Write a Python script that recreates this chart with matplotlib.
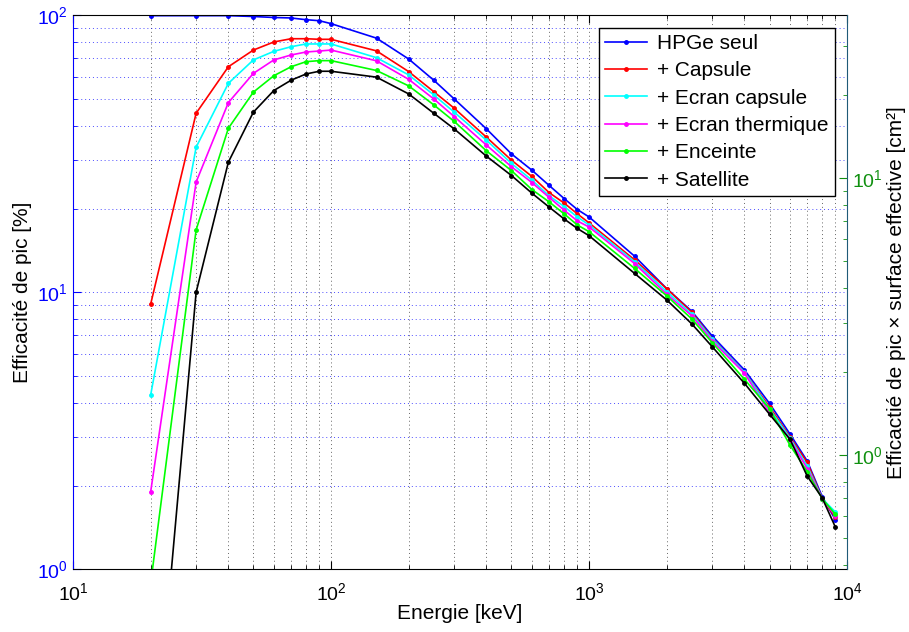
import numpy as np
import matplotlib
matplotlib.use("Agg")
import matplotlib.pyplot as plt
from matplotlib.ticker import LogLocator, NullFormatter

plt.rcParams['font.family'] = ['Liberation Sans', 'DejaVu Sans']
plt.rcParams['mathtext.default'] = 'regular'

# energies [keV]
energie = [20, 30, 40, 50, 60, 70, 80, 90, 100, 150, 200, 250, 300, 400, 500,
           600, 700, 800, 900, 1000, 1500, 2000, 2500, 3000, 4000, 5000, 6000,
           7000, 8000, 9000]

# peak efficiency [%]
hpge_seul = [99.7, 99.7, 99.7, 99.0, 98.2, 97.8, 96.4, 95.6, 93.3, 82.7, 69.5, 58.3,
             49.9, 38.9, 31.6, 27.6, 24.3, 21.8, 19.9, 18.7, 13.5, 10.3, 8.54, 6.95,
             5.24, 3.97, 3.08, 2.46, 1.83, 1.51]
capsule = [9.07, 44.3, 65.2, 74.9, 80.1, 82.3, 82.3, 81.9, 81.9, 74.4, 62.6, 53.0,
           46.2, 36.3, 30.0, 26.2, 22.9, 21.0, 19.2, 17.8, 13.1, 10.3, 8.47, 6.80,
           5.14, 3.86, 3.01, 2.43, 1.80, 1.54]
ecran_capsule = [4.26, 33.4, 56.8, 69.0, 74.1, 77.0, 78.8, 78.8, 78.8, 70.3, 60.9, 51.6,
                 44.7, 35.4, 29.2, 25.4, 22.3, 20.4, 18.7, 17.5, 12.9, 10.05, 8.35, 6.77,
                 5.14, 3.80, 2.98, 2.36, 1.80, 1.61]
ecran_thermique = [1.906, 25.0, 48.4, 61.7, 69.0, 71.9, 73.7, 74.3, 74.9, 68.5, 58.7, 49.9,
                   43.1, 34.0, 28.4, 24.9, 22.0, 19.8, 18.1, 17.2, 12.7, 9.84, 8.23, 6.67,
                   5.10, 3.68, 2.94, 2.31, 1.80, 1.56]
enceinte = [0.89, 16.8, 39.1, 52.8, 60.5, 65.2, 68.0, 68.6, 68.6, 63.2, 55.6, 47.5,
            41.4, 32.4, 27.5, 23.5, 21.2, 19.2, 17.5, 16.55, 12.2, 9.70, 8.01, 6.58,
            4.85, 3.80, 2.81, 2.25, 1.80, 1.58]
satellite = [0.144, 10.0, 29.5, 44.7, 53.5, 58.3, 61.4, 62.8, 62.8, 59.8, 52.0, 44.3,
             38.9, 31.0, 26.4, 22.8, 20.3, 18.4, 17.0, 16.0, 11.7, 9.38, 7.69, 6.36,
             4.69, 3.63, 2.95, 2.17, 1.81, 1.42]

series = [(hpge_seul, '#0000ff', 'HPGe seul'),
          (capsule, '#ff0000', '+ Capsule'),
          (ecran_capsule, '#00ffff', '+ Ecran capsule'),
          (ecran_thermique, '#ff00ff', '+ Ecran thermique'),
          (enceinte, '#00ff00', '+ Enceinte'),
          (satellite, '#000000', '+ Satellite')]

# effective area factor between left (%) and right (cm2) axes
surface = 38.67

fig = plt.figure(figsize=(9.09, 6.32), dpi=100)
ax = fig.add_axes([0.0803, 0.0992, 0.8517, 0.8766])

lines = []
for vals, col, lab in series:
    l, = ax.plot(energie, vals, color=col, marker='.', markersize=5, lw=1.2, label=lab)
    lines.append(l)

ax.set_xscale('log')
ax.set_yscale('log')
ax.set_xlim(10, 1e4)
ax.set_ylim(1, 100)

ax.grid(which='both', axis='y', color='b', linestyle=(0, (1, 3)), lw=0.7, alpha=0.7)
ax.grid(which='both', axis='x', color='k', linestyle=(0, (1, 3)), lw=0.7, alpha=0.6)

ax.tick_params(which='both', direction='in', top=True, right=False, labelsize=14)
ax.tick_params(which='major', length=6)
ax.tick_params(which='minor', length=3)
ax.tick_params(axis='y', which='both', colors='b')
ax.tick_params(axis='x', which='both', colors='k', pad=9)
ax.spines['left'].set_color('b')
ax.spines['right'].set_visible(False)
ax.yaxis.set_minor_formatter(NullFormatter())
ax.xaxis.set_minor_formatter(NullFormatter())

ax.set_xlabel('Energie [keV]', fontsize=15, labelpad=0)
ax.set_ylabel('Efficacité de pic [%]', fontsize=15, labelpad=4)

ax2 = ax.twinx()
ax2.set_yscale('log')
ax2.set_ylim(1 * surface / 100, 100 * surface / 100)
ax2.yaxis.set_major_locator(LogLocator(base=10))
ax2.yaxis.set_minor_locator(LogLocator(base=10, subs=np.arange(2, 10)))
ax2.yaxis.set_minor_formatter(NullFormatter())
ax2.tick_params(which='both', direction='in', colors='#109010', labelsize=14)
ax2.tick_params(which='major', length=6)
ax2.tick_params(which='minor', length=3)
for s in ['left', 'top', 'bottom']:
    ax2.spines[s].set_visible(False)
ax2.spines['right'].set_color('#1f5a78')
ax2.set_ylabel('Efficactié de pic × surface effective [cm²]', fontsize=15, labelpad=3)

leg = ax2.legend(lines, [l.get_label() for l in lines], loc='upper right',
                 fontsize=15, fancybox=False, edgecolor='k', framealpha=1,
                 handlelength=2.0, labelspacing=0.4, borderaxespad=0.6,
                 borderpad=0.3, handletextpad=0.5)
leg.get_frame().set_linewidth(1.0)

fig.savefig('out.png', dpi=100)
